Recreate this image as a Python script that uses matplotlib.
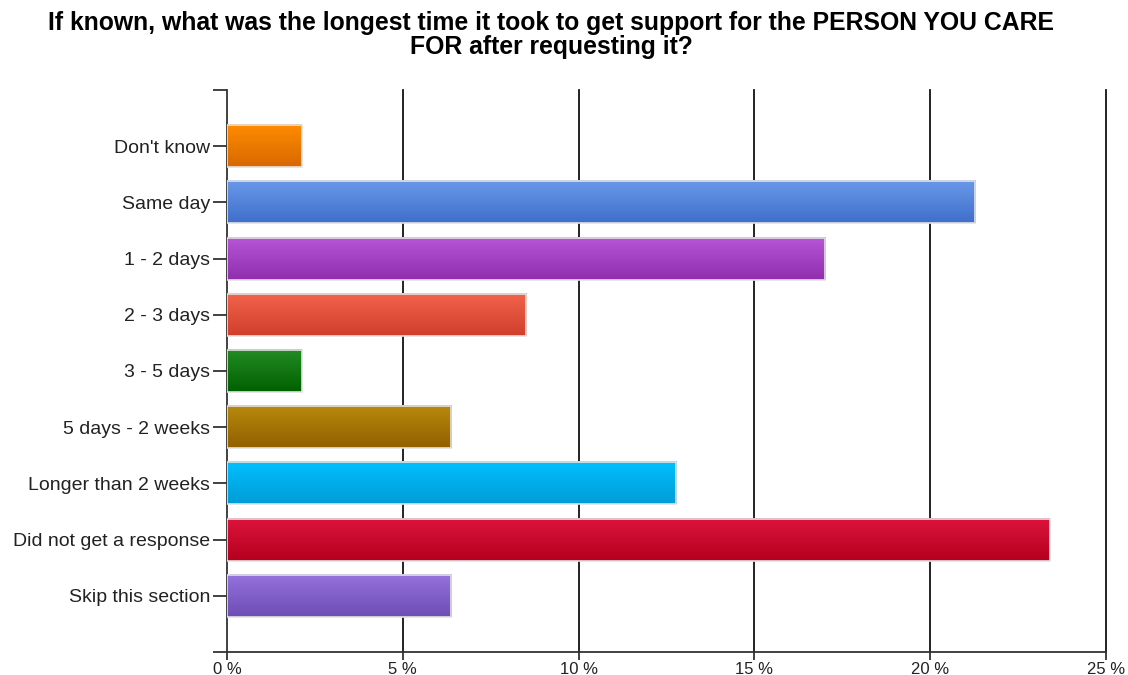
import numpy as np
import matplotlib
matplotlib.use("Agg")
import matplotlib.pyplot as plt
from matplotlib.colors import LinearSegmentedColormap
from matplotlib.patches import Rectangle

plt.rcParams['font.family'] = ['Liberation Sans', 'DejaVu Sans']

categories = ["Don't know", "Same day", "1 - 2 days", "2 - 3 days", "3 - 5 days",
              "5 days - 2 weeks", "Longer than 2 weeks", "Did not get a response",
              "Skip this section"]
percent = [2.13, 21.28, 17.02, 8.51, 2.13, 6.38, 12.77, 23.40, 6.38]
# (top colour, bottom colour) for each bar gradient
bar_colors = [("#ff8c00", "#d86800"), ("#6a98ea", "#3f6fca"), ("#b655d6", "#8f2fae"),
              ("#f2634b", "#cf3f2c"), ("#238c23", "#006000"), ("#b8890d", "#936000"),
              ("#00c0ff", "#009cd6"), ("#dc143c", "#b5001f"), ("#9572dc", "#6e4db5")]
xticks = [0, 5, 10, 15, 20, 25]
title = "If known, what was the longest time it took to get support for the PERSON YOU CARE\nFOR after requesting it?"

fig = plt.figure(figsize=(11.28, 6.75), dpi=100)
ax = fig.add_axes([0.2012, 0.0341, 0.7793, 0.8326])

h = 0.75
grad = np.linspace(0, 1, 64).reshape(-1, 1)
for i, (v, (c_top, c_bot)) in enumerate(zip(percent, bar_colors)):
    cmap = LinearSegmentedColormap.from_list(f"g{i}", [c_top, c_bot])
    ax.imshow(grad, cmap=cmap, aspect="auto", interpolation="bilinear",
              extent=[0, v, i + h / 2, i - h / 2], zorder=3)
    ax.add_patch(Rectangle((0, i - h / 2), v, h, fill=False,
                           edgecolor="#e2e2e2", linewidth=1.2, zorder=4))

ax.set_xlim(0, 25)
ax.set_ylim(9, -1)

for x in xticks[1:]:
    ax.axvline(x, color="#111111", linewidth=1.3, zorder=2, clip_on=False)

ax.set_xticks(xticks)
ax.set_xticklabels([f"{t} %" for t in xticks], fontsize=12, color="#222222")
ax.set_yticks(list(range(-1, 10)))
ax.set_yticklabels([""] + categories + [""], fontsize=14, color="#222222")
ax.tick_params(axis="y", length=10, width=1.3, color="#333333", pad=2)
ax.tick_params(axis="x", length=6, width=1.3, color="#333333", pad=1)

for s in ["top", "right"]:
    ax.spines[s].set_visible(False)
for s in ["left", "bottom"]:
    ax.spines[s].set_linewidth(1.3)
    ax.spines[s].set_color("#333333")

fig.text(0.4885, 0.984, title, ha="center", va="top", fontsize=17.8,
         fontweight="bold", linespacing=1.0)

fig.savefig("out.png", dpi=100)
